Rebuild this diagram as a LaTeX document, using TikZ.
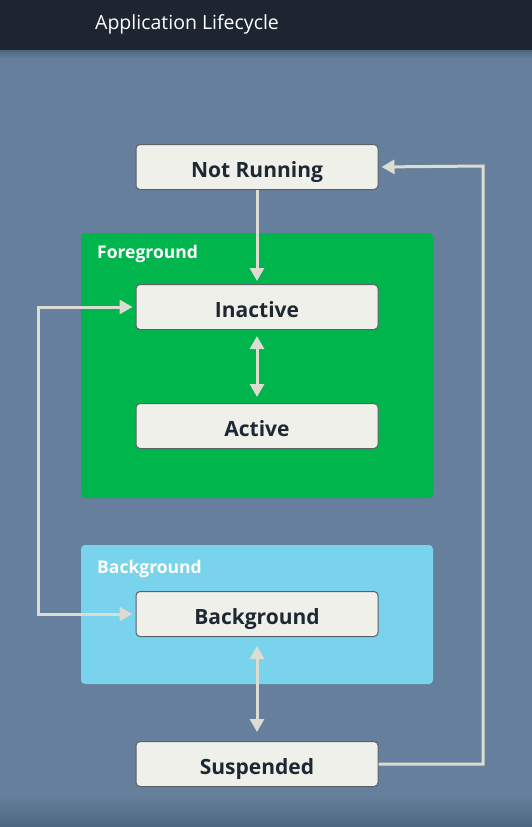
\documentclass[tikz,border=0pt]{standalone}
\usepackage{fontspec}
\setmainfont{Open Sans}
\usetikzlibrary{arrows.meta}
\definecolor{hdr}{HTML}{1D2630}
\definecolor{slate}{HTML}{657F9C}
\definecolor{slatedark}{HTML}{4D6580}
\definecolor{fgreen}{HTML}{00B64C}
\definecolor{bblue}{HTML}{79D3EC}
\definecolor{boxfill}{HTML}{F0F0EA}
\definecolor{boxline}{HTML}{5C6166}
\definecolor{txt}{HTML}{1E2833}
\definecolor{arr}{HTML}{DCDDD0}
\tikzset{
  state/.style={draw=boxline, line width=1pt, fill=boxfill, rounded corners=4pt,
    minimum width=242pt, minimum height=45pt, inner sep=0pt,
    text height=20pt, text depth=0pt,
    font=\fontsize{21}{24}\selectfont\bfseries, text=txt},
  group/.style={rounded corners=4pt},
  grouplabel/.style={anchor=west, inner sep=0pt, text=white,
    font=\fontsize{17.5}{20}\selectfont\bfseries},
  conn/.style={draw=arr, line width=3pt,
    -{Triangle[length=13pt,width=14pt]}, shorten >=3pt},
  conn2/.style={draw=arr, line width=3pt,
    {Triangle[length=13pt,width=14pt]}-{Triangle[length=13pt,width=14pt]},
    shorten >=3pt, shorten <=3pt}
}
\begin{document}
\begin{tikzpicture}[x=1pt,y=-1pt]
\useasboundingbox (0,0) rectangle (532,827);
% background
\fill[slate] (0,0) rectangle (532,827);
\shade[top color=slate, bottom color=slatedark] (0,795) rectangle (532,827);
\shade[top color=slatedark, bottom color=slate] (0,50) rectangle (532,58);
% header
\fill[hdr] (0,0) rectangle (532,50);
\node[anchor=base west, inner sep=0pt, text=white, font=\fontsize{19.5}{22}\selectfont] (title) at (95,29) {Application Lifecycle};
% groups
\fill[group, fgreen] (81,233) rectangle (433,498);
\node[grouplabel] (fglabel) at (97,254) {Foreground};
\fill[group, bblue] (81,545) rectangle (433,684);
\node[grouplabel] (bglabel) at (97,569) {Background};
% states
\node[state] (notrunning) at (257,167) {Not Running};
\node[state] (inactive) at (257,307) {Inactive};
\node[state] (active) at (257,426) {Active};
\node[state] (background) at (257,614) {Background};
\node[state] (suspended) at (257,764) {Suspended};
% connectors
\draw[conn] (notrunning.south) -- (inactive.north);
\draw[conn2] ([yshift=-3pt]inactive.south) -- ([yshift=3pt]active.north);
\draw[conn2] ([yshift=-6pt]background.south) -- ([yshift=6pt]suspended.north);
\draw[conn] (suspended.east) -- (483,764) -- (483,166) -- (notrunning.east);
\draw[conn2] (inactive.west) -- (38,307) -- (38,614) -- (background.west);
\end{tikzpicture}
\end{document}
